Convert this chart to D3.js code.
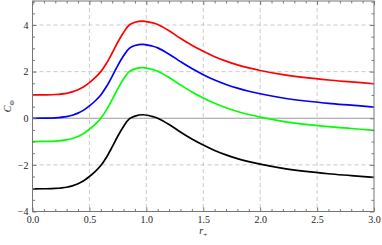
<!DOCTYPE html>
<html>
<head>
<meta charset="utf-8">
<script src="https://cdn.jsdelivr.net/npm/d3@7"></script>
<style>
  body { margin: 0; background: #fff; }
  svg text { font-family: "Liberation Serif", "DejaVu Serif", serif; fill: #222; }
</style>
</head>
<body>
<svg id="chart" width="382" height="245"></svg>
<script>
// r_+ sample points
const rValues = [0, 0.1, 0.2, 0.3, 0.35, 0.4, 0.45, 0.5, 0.55, 0.6, 0.65, 0.7, 0.75, 0.8, 0.85, 0.9, 0.97,
  1.05, 1.1, 1.2, 1.3, 1.4, 1.5, 1.6, 1.7, 1.8, 1.9, 2.0, 2.2, 2.4, 2.6, 2.8, 3.0];

const redValues = [1, 1.005, 1.02, 1.07, 1.13, 1.22, 1.35, 1.53, 1.74, 2.0, 2.36, 2.8, 3.27, 3.68, 4.0, 4.12, 4.17,
  4.1, 4.02, 3.75, 3.43, 3.13, 2.87, 2.64, 2.45, 2.29, 2.16, 2.05, 1.87, 1.74, 1.64, 1.56, 1.48];
const blueValues = [0, 0.005, 0.02, 0.07, 0.13, 0.22, 0.35, 0.53, 0.74, 1.0, 1.36, 1.8, 2.27, 2.68, 3.0, 3.12, 3.17,
  3.1, 3.02, 2.75, 2.43, 2.13, 1.87, 1.64, 1.45, 1.29, 1.16, 1.05, 0.87, 0.74, 0.64, 0.56, 0.48];
const greenValues = [-1, -0.995, -0.98, -0.93, -0.87, -0.78, -0.65, -0.47, -0.26, 0, 0.36, 0.8, 1.27, 1.68, 2.0, 2.12, 2.17,
  2.1, 2.02, 1.75, 1.43, 1.13, 0.87, 0.64, 0.45, 0.29, 0.16, 0.05, -0.13, -0.26, -0.36, -0.44, -0.52];
const blackValues = [-3.03, -3.025, -3.01, -2.96, -2.9, -2.81, -2.68, -2.5, -2.29, -2.03, -1.67, -1.23, -0.76, -0.35, -0.03, 0.09, 0.15,
  0.08, 0.0, -0.27, -0.59, -0.89, -1.15, -1.38, -1.57, -1.73, -1.86, -1.97, -2.15, -2.28, -2.38, -2.46, -2.54];

const seriesColors = ["#ff0000", "#0000ff", "#00ff00", "#000000"];
const seriesValues = [redValues, blueValues, greenValues, blackValues];

const xTicks = [0, 0.5, 1.0, 1.5, 2.0, 2.5, 3.0];
const yTicks = [-4, -2, 0, 2, 4];
const xGrid = [0.5, 1.0, 1.5, 2.0, 2.5];
const yGrid = [-2, 2, 4];

const svg = d3.select("#chart");
const mLeft = 32.5, mRight = 374, mTop = 1, mBottom = 211.5;

const x = d3.scaleLinear().domain([0, 3]).range([mLeft, mRight]);
const y = d3.scaleLinear().domain([-4, 5.03]).range([mBottom, mTop]);

// grid
svg.append("g").selectAll("line").data(xGrid).join("line")
  .attr("x1", d => x(d)).attr("x2", d => x(d))
  .attr("y1", mTop).attr("y2", mBottom)
  .attr("stroke", "#bdbdbd").attr("stroke-width", 0.8).attr("stroke-dasharray", "4,3");
svg.append("g").selectAll("line").data(yGrid).join("line")
  .attr("x1", mLeft).attr("x2", mRight)
  .attr("y1", d => y(d)).attr("y2", d => y(d))
  .attr("stroke", "#bdbdbd").attr("stroke-width", 0.8).attr("stroke-dasharray", "4,3");

// zero axis
svg.append("line")
  .attr("x1", mLeft).attr("x2", mRight).attr("y1", y(0)).attr("y2", y(0))
  .attr("stroke", "#9a9a9a").attr("stroke-width", 1);

// curves
const line = d3.line().x((d, i) => x(rValues[i])).y(d => y(d)).curve(d3.curveCatmullRom.alpha(0.5));
svg.append("g").selectAll("path").data(seriesValues).join("path")
  .attr("d", d => line(d))
  .attr("fill", "none")
  .attr("stroke", (d, i) => seriesColors[i])
  .attr("stroke-width", 1.7);

// frame
svg.append("rect")
  .attr("x", mLeft).attr("y", mTop).attr("width", mRight - mLeft).attr("height", mBottom - mTop)
  .attr("fill", "none").attr("stroke", "#777").attr("stroke-width", 1);

const xMinor = d3.range(0, 3.001, 0.1).filter(v => Math.abs(v * 2 - Math.round(v * 2)) > 0.01);
const yMinor = d3.range(-4, 5.01, 0.5).filter(v => Math.abs(v / 2 - Math.round(v / 2)) > 0.01);

function styleAxis(g) {
  g.select(".domain").remove();
  g.selectAll("line").attr("stroke", "#777");
  g.selectAll("text").attr("font-size", 10).attr("font-family", "Liberation Serif, serif");
}

svg.append("g").attr("transform", `translate(0,${mBottom})`)
  .call(d3.axisBottom(x).tickValues(xTicks).tickFormat(d3.format(".1f")).tickSizeInner(-4).tickSizeOuter(0).tickPadding(4))
  .call(styleAxis);
svg.append("g").attr("transform", `translate(0,${mBottom})`)
  .call(d3.axisBottom(x).tickValues(xMinor).tickFormat("").tickSizeInner(-2.5).tickSizeOuter(0))
  .call(styleAxis);
svg.append("g").attr("transform", `translate(0,${mTop})`)
  .call(d3.axisTop(x).tickValues(xTicks).tickFormat("").tickSizeInner(-4).tickSizeOuter(0))
  .call(styleAxis);
svg.append("g").attr("transform", `translate(0,${mTop})`)
  .call(d3.axisTop(x).tickValues(xMinor).tickFormat("").tickSizeInner(-2.5).tickSizeOuter(0))
  .call(styleAxis);

svg.append("g").attr("transform", `translate(${mLeft},0)`)
  .call(d3.axisLeft(y).tickValues(yTicks).tickFormat(d3.format("d")).tickSizeInner(-4).tickSizeOuter(0).tickPadding(4))
  .call(styleAxis);
svg.append("g").attr("transform", `translate(${mLeft},0)`)
  .call(d3.axisLeft(y).tickValues(yMinor).tickFormat("").tickSizeInner(-2.5).tickSizeOuter(0))
  .call(styleAxis);
svg.append("g").attr("transform", `translate(${mRight},0)`)
  .call(d3.axisRight(y).tickValues(yTicks).tickFormat("").tickSizeInner(-4).tickSizeOuter(0))
  .call(styleAxis);
svg.append("g").attr("transform", `translate(${mRight},0)`)
  .call(d3.axisRight(y).tickValues(yMinor).tickFormat("").tickSizeInner(-2.5).tickSizeOuter(0))
  .call(styleAxis);

// axis labels
const xl = svg.append("text")
  .attr("x", (mLeft + mRight) / 2).attr("y", 234)
  .attr("text-anchor", "middle").attr("font-size", 10);
xl.append("tspan").attr("font-style", "italic").text("r");
xl.append("tspan").attr("font-size", 7).attr("dy", 2.5).text("+");

const yl = svg.append("text")
  .attr("transform", `translate(11,${(mTop + mBottom) / 2}) rotate(-90)`)
  .attr("text-anchor", "middle").attr("font-size", 10);
yl.append("tspan").attr("font-style", "italic").text("C");
yl.append("tspan").attr("font-size", 7).attr("dy", 2.5).text("Φ");
</script>
</body>
</html>
